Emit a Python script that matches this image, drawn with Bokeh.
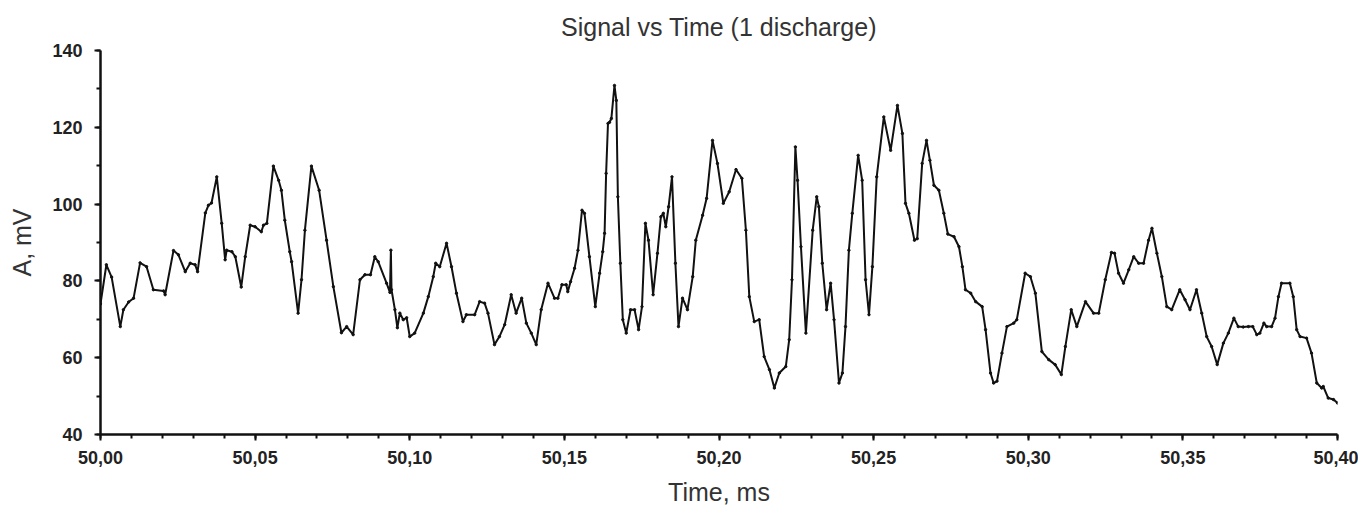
from bokeh.plotting import figure
from bokeh.models import Range1d, FixedTicker, CustomJSTickFormatter, Title
from bokeh.embed import file_html
from bokeh.resources import INLINE

# Time, ms
time_ms = [
    50.0000, 50.0019, 50.0036, 50.0064, 50.0074, 50.0091, 50.0107, 50.0128, 50.0149, 50.0171,
    50.0204, 50.0209, 50.0236, 50.0252, 50.0274, 50.0290, 50.0306, 50.0314, 50.0339, 50.0349,
    50.0359, 50.0376, 50.0392, 50.0403, 50.0408, 50.0425, 50.0436, 50.0455, 50.0468, 50.0484,
    50.0500, 50.0520, 50.0527, 50.0538, 50.0559, 50.0576, 50.0585, 50.0596, 50.0612, 50.0618,
    50.0639, 50.0650, 50.0661, 50.0682, 50.0707, 50.0731, 50.0753, 50.0779, 50.0796, 50.0817,
    50.0839, 50.0855, 50.0873, 50.0887, 50.0898, 50.0925, 50.0936, 50.0939, 50.0941, 50.0952,
    50.0960, 50.0968, 50.0979, 50.0990, 50.1000, 50.1016, 50.1044, 50.1060, 50.1076, 50.1084,
    50.1097, 50.1119, 50.1135, 50.1151, 50.1172, 50.1183, 50.1210, 50.1226, 50.1242, 50.1253,
    50.1274, 50.1290, 50.1307, 50.1328, 50.1344, 50.1362, 50.1377, 50.1393, 50.1409, 50.1425,
    50.1447, 50.1468, 50.1479, 50.1492, 50.1506, 50.1511, 50.1520, 50.1533, 50.1544, 50.1557,
    50.1565, 50.1581, 50.1600, 50.1614, 50.1624, 50.1630, 50.1635, 50.1641, 50.1646, 50.1652,
    50.1662, 50.1668, 50.1673, 50.1681, 50.1689, 50.1700, 50.1714, 50.1727, 50.1740, 50.1751,
    50.1762, 50.1772, 50.1787, 50.1801, 50.1812, 50.1820, 50.1828, 50.1837, 50.1848, 50.1859,
    50.1869, 50.1882, 50.1898, 50.1915, 50.1925, 50.1947, 50.1960, 50.1979, 50.1995, 50.2014,
    50.2033, 50.2055, 50.2074, 50.2087, 50.2098, 50.2114, 50.2130, 50.2146, 50.2163, 50.2179,
    50.2195, 50.2216, 50.2227, 50.2236, 50.2247, 50.2254, 50.2265, 50.2281, 50.2303, 50.2316,
    50.2323, 50.2334, 50.2348, 50.2361, 50.2372, 50.2388, 50.2399, 50.2409, 50.2420, 50.2431,
    50.2450, 50.2463, 50.2474, 50.2485, 50.2496, 50.2510, 50.2533, 50.2555, 50.2577, 50.2593,
    50.2603, 50.2614, 50.2632, 50.2641, 50.2657, 50.2671, 50.2682, 50.2695, 50.2711, 50.2727,
    50.2740, 50.2760, 50.2776, 50.2787, 50.2797, 50.2814, 50.2830, 50.2851, 50.2862, 50.2878,
    50.2888, 50.2899, 50.2915, 50.2931, 50.2953, 50.2963, 50.2990, 50.3007, 50.3023, 50.3044,
    50.3066, 50.3087, 50.3107, 50.3120, 50.3139, 50.3157, 50.3185, 50.3211, 50.3228, 50.3249,
    50.3269, 50.3279, 50.3292, 50.3308, 50.3325, 50.3341, 50.3357, 50.3373, 50.3389, 50.3400,
    50.3416, 50.3432, 50.3448, 50.3464, 50.3490, 50.3507, 50.3523, 50.3544, 50.3561, 50.3577,
    50.3593, 50.3611, 50.3631, 50.3647, 50.3665, 50.3679, 50.3695, 50.3712, 50.3726, 50.3739,
    50.3749, 50.3762, 50.3771, 50.3787, 50.3798, 50.3809, 50.3819, 50.3846, 50.3857, 50.3868,
    50.3879, 50.3900, 50.3916, 50.3933, 50.3949, 50.3954, 50.3970, 50.3987, 50.4000,
]

# Signal amplitude, mV
amp_mv = [
    74.0, 84.2, 81.0, 68.1, 72.5, 74.5, 75.5, 84.7, 83.7, 77.7,
    77.4, 76.4, 87.9, 86.8, 82.4, 84.6, 84.2, 82.4, 97.7, 99.7,
    100.3, 107.1, 95.0, 85.5, 88.0, 87.6, 86.3, 78.4, 86.3, 94.5,
    94.1, 92.8, 94.5, 95.0, 109.9, 106.2, 103.6, 95.8, 87.6, 85.0,
    71.6, 80.3, 93.2, 109.9, 103.6, 90.6, 78.5, 66.5, 68.1, 66.0,
    80.3, 81.6, 81.6, 86.3, 85.0, 79.4, 77.0, 88.0, 77.7, 72.5,
    67.8, 71.6, 69.9, 70.4, 65.5, 66.4, 71.6, 75.9, 81.1, 84.6,
    83.7, 89.8, 83.7, 76.8, 69.4, 71.2, 71.2, 74.6, 74.2, 71.6,
    63.4, 65.5, 68.6, 76.4, 71.6, 75.5, 69.0, 66.4, 63.4, 72.5,
    79.4, 75.5, 75.5, 79.0, 79.0, 77.2, 79.8, 83.3, 88.0, 98.4,
    97.6, 86.3, 73.3, 82.0, 87.6, 92.4, 108.0, 121.0, 121.3, 122.3,
    130.9, 127.0, 101.9, 84.6, 69.9, 66.4, 72.5, 72.5, 67.3, 73.3,
    95.0, 90.6, 76.4, 87.2, 96.7, 97.6, 94.1, 99.3, 107.1, 84.6,
    68.1, 75.5, 72.5, 81.1, 90.6, 97.1, 101.5, 116.6, 110.6, 100.2,
    103.2, 109.0, 106.7, 93.2, 75.9, 69.4, 69.9, 60.3, 56.9, 52.1,
    56.0, 57.7, 64.7, 80.3, 114.9, 106.2, 88.9, 66.4, 93.2, 101.9,
    99.3, 84.6, 72.5, 79.4, 69.9, 53.4, 56.0, 68.1, 88.0, 97.6,
    112.7, 106.2, 80.3, 71.2, 83.7, 107.1, 122.7, 114.0, 125.7, 118.4,
    100.2, 97.6, 90.6, 91.0, 110.6, 116.6, 111.4, 104.9, 103.6, 97.6,
    92.2, 91.5, 88.9, 83.7, 77.7, 76.8, 74.6, 73.3, 67.3, 56.0,
    53.4, 53.9, 61.2, 68.1, 69.0, 69.9, 82.0, 81.1, 76.8, 61.6,
    59.5, 58.2, 55.6, 62.9, 72.5, 68.1, 74.6, 71.6, 71.6, 80.3,
    87.4, 87.2, 82.0, 79.4, 82.9, 86.3, 84.6, 84.6, 90.6, 93.7,
    87.2, 81.1, 73.3, 72.5, 77.7, 75.1, 72.5, 77.7, 71.6, 65.5,
    62.9, 58.2, 63.8, 66.4, 70.3, 68.1, 68.0, 68.1, 68.1, 66.0,
    66.4, 69.0, 68.1, 68.1, 70.3, 75.9, 79.4, 79.4, 75.9, 67.3,
    65.5, 65.1, 61.2, 53.4, 52.1, 52.5, 49.5, 49.1, 48.2,
]

# Tick positions
x_major_ticks = [50.00, 50.05, 50.10, 50.15, 50.20, 50.25, 50.30, 50.35, 50.40]
x_minor_ticks = [round(50.0 + 0.01 * i, 2) for i in range(41)]
y_major_ticks = [40, 60, 80, 100, 120, 140]
y_minor_ticks = [40, 50, 60, 70, 80, 90, 100, 110, 120, 130, 140]

TITLE = "Signal vs Time (1 discharge)"
X_LABEL = "Time, ms"
Y_LABEL = "A, mV"

FONT = "Liberation Sans"

p = figure(
    width=1358, height=508,
    output_backend="svg", toolbar_location=None,
    x_range=Range1d(50.0, 50.4), y_range=Range1d(40, 140),
    min_border_left=100, min_border_right=21,
    min_border_top=50, min_border_bottom=73,
    background_fill_color="white", border_fill_color="white",
)
p.outline_line_color = None
p.grid.grid_line_color = None

p.title = Title(text=TITLE, align="center", text_font=FONT,
                text_font_size="25px", text_font_style="normal",
                text_color="#333333", standoff=19)

p.line(time_ms, amp_mv, line_color="#111111", line_width=2)
p.scatter(time_ms, amp_mv, size=2.4, color="#111111")

xa = p.xaxis[0]
xa.ticker = FixedTicker(ticks=x_major_ticks, minor_ticks=x_minor_ticks)
xa.formatter = CustomJSTickFormatter(code="return tick.toFixed(2).replace('.', ',');")
ya = p.yaxis[0]
ya.ticker = FixedTicker(ticks=y_major_ticks, minor_ticks=y_minor_ticks)

for ax in (xa, ya):
    ax.axis_line_width = 2.5
    ax.axis_line_color = "#111111"
    ax.major_tick_line_width = 2
    ax.major_tick_line_color = "#111111"
    ax.minor_tick_line_width = 2
    ax.minor_tick_line_color = "#111111"
    ax.major_tick_out = 6
    ax.major_tick_in = 0
    ax.minor_tick_out = 4
    ax.minor_tick_in = 0
    ax.major_label_text_font = FONT
    ax.major_label_text_font_size = "18px"
    ax.major_label_text_font_style = "bold"
    ax.major_label_text_color = "#222222"
    ax.axis_label_text_font = FONT
    ax.axis_label_text_font_size = "25px"
    ax.axis_label_text_font_style = "normal"
    ax.axis_label_text_color = "#333333"

xa.axis_label = X_LABEL
xa.major_label_standoff = 10
xa.axis_label_standoff = 11
ya.axis_label = Y_LABEL
ya.major_label_standoff = 12
ya.axis_label_standoff = 13

open("out.html", "w").write(file_html(p, INLINE))
